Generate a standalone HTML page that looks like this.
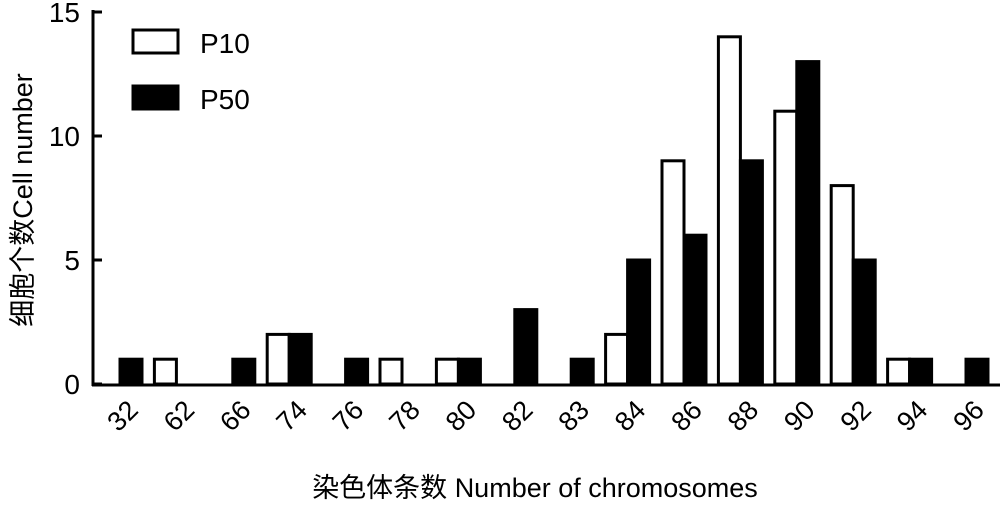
<!DOCTYPE html>
<html><head><meta charset="utf-8"><style>
body{margin:0;background:#fff}
svg text{font-family:"Liberation Sans","Noto Sans CJK SC",sans-serif;fill:#000}
</style></head><body>
<svg id="chart" width="1000" height="514" xmlns="http://www.w3.org/2000/svg">
<g id="bars"></g>
<line x1="93" y1="10" x2="93" y2="386" stroke="#000" stroke-width="3"/>
<line x1="92" y1="385" x2="1000" y2="385" stroke="#000" stroke-width="3"/>
<g id="yticks"></g>
<g id="xlabels"></g>
<text x="0" y="0" font-size="27" transform="translate(32,200) rotate(-90)" text-anchor="middle">细胞个数Cell number</text>
<text x="535" y="497" font-size="27" text-anchor="middle">染色体条数 Number of chromosomes</text>
<g>
<rect x="133" y="30" width="45" height="23" fill="#fff" stroke="#000" stroke-width="3"/>
<text x="200" y="53" font-size="28">P10</text>
<rect x="133" y="86" width="45" height="23" fill="#000" stroke="#000" stroke-width="3"/>
<text x="200" y="109" font-size="28">P50</text>
</g>
</svg>
<script>
const categories=["32","62","66","74","76","78","80","82","83","84","86","88","90","92","94","96"];
const p10=[0,1,0,2,0,1,1,0,0,2,9,14,11,8,1,0];
const p50=[1,0,1,2,1,0,1,3,1,5,6,9,13,5,1,1];
const yTicks=[0,5,10,15];
const NS="http://www.w3.org/2000/svg";
function y(v){return 384-v*24.8;}
function x(i){return 98+i*56.4;}
const bw=22;
const bars=document.getElementById('bars');
categories.forEach((c,i)=>{
  [[p10,'#fff','p10',0],[p50,'#000','p50',bw]].forEach(([s,f,n,off])=>{
    if(s[i]<=0)return;
    const r=document.createElementNS(NS,'rect');
    r.setAttribute('x',x(i)+off);r.setAttribute('y',y(s[i]));
    r.setAttribute('width',bw);r.setAttribute('height',384-y(s[i]));
    r.setAttribute('fill',f);r.setAttribute('stroke','#000');r.setAttribute('stroke-width','3');
    
    
    bars.appendChild(r);
  });
  const t=document.createElementNS(NS,'text');
  const cx=x(i)+bw+6, cy=398;
  t.setAttribute('x',cx);t.setAttribute('y',cy);t.setAttribute('font-size','27');
  t.setAttribute('text-anchor','end');
  t.setAttribute('transform','rotate(-45 '+cx+' '+cy+')');
  t.setAttribute('dominant-baseline','hanging');
  t.textContent=c;
  
  
  document.getElementById('xlabels').appendChild(t);
});
const yt=document.getElementById('yticks');
yTicks.forEach(v=>{
  const l=document.createElementNS(NS,'line');
  l.setAttribute('x1',93);l.setAttribute('x2',102);l.setAttribute('y1',y(v));l.setAttribute('y2',y(v));
  l.setAttribute('stroke','#000');l.setAttribute('stroke-width','3');
  
  
  yt.appendChild(l);
  const t=document.createElementNS(NS,'text');
  t.setAttribute('x',80);t.setAttribute('y',y(v)+10);t.setAttribute('font-size','28');t.setAttribute('text-anchor','end');
  t.textContent=v;
  
  
  yt.appendChild(t);
});
</script>
</body></html>
